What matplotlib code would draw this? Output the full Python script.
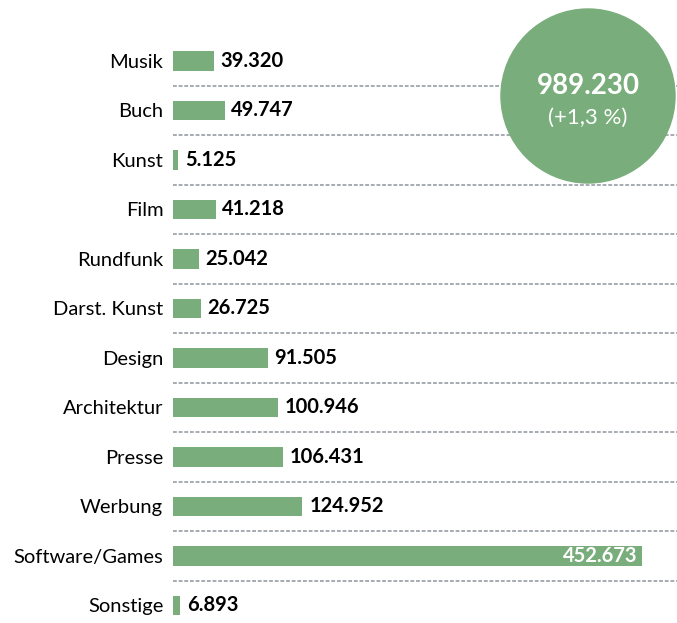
import matplotlib.pyplot as plt
from matplotlib.patches import Ellipse

categories = ["Musik", "Buch", "Kunst", "Film", "Rundfunk", "Darst. Kunst",
              "Design", "Architektur", "Presse", "Werbung", "Software/Games", "Sonstige"]
values = [39320, 49747, 5125, 41218, 25042, 26725, 91505, 100946, 106431, 124952, 452673, 6893]
value_labels = ["39.320", "49.747", "5.125", "41.218", "25.042", "26.725",
                "91.505", "100.946", "106.431", "124.952", "452.673", "6.893"]
total_label = "989.230"
change_label = "(+1,3 %)"

green = "#79ad7b"
grey = "#8e949e"
plt.rcParams['font.family'] = ['Lato', 'DejaVu Sans']

fig = plt.figure(figsize=(6.77, 6.23), dpi=100)
ax = fig.add_axes([173 / 677, 0, 1 - 173 / 677, 1])

xmax = 504 / 469 * 452673
ax.set_xlim(0, xmax)
ax.set_ylim(11.354, -1.232)

pos = list(range(len(categories)))
ax.barh(pos, values, height=0.40, color=green, zorder=2)

# separators between rows
for i in range(len(categories) - 1):
    ax.axhline(i + 0.5, color=grey, lw=1.1, ls=(0, (2.5, 1.2)), zorder=1)

for i, (v, lab) in enumerate(zip(values, value_labels)):
    if v > 300000:
        ax.text(v - 4500, i, lab, ha='right', va='center', color='white',
                fontsize=14.5, fontweight='bold', zorder=3)
    else:
        ax.text(v + 6500, i, lab, ha='left', va='center', color='black',
                fontsize=14.5, fontweight='bold', zorder=3)

ax.set_yticks(pos)
ax.set_yticklabels(categories, fontsize=14.5)
ax.tick_params(axis='y', length=0, pad=7)
ax.set_xticks([])
for s in ax.spines.values():
    s.set_visible(False)

# total bubble (drawn in figure pixels so it stays round)
circ = Ellipse((588 / 677, 1 - 96 / 623), 2 * 87 / 677, 2 * 87 / 623,
               transform=fig.transFigure, color=green, zorder=5)
fig.add_artist(circ)
fig.text(588 / 677, 1 - 86 / 623, total_label, ha='center', va='center',
         color='white', fontsize=20, fontweight='bold', zorder=6)
fig.text(588 / 677, 1 - 118 / 623, change_label, ha='center', va='center',
         color='white', fontsize=16, zorder=6)

fig.savefig("out.png", dpi=100)
